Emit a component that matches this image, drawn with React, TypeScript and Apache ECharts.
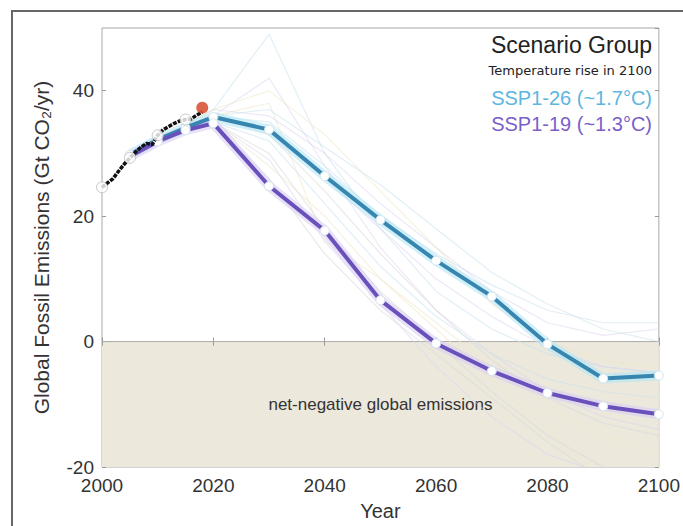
import React, { useEffect, useRef } from "react";
import * as echarts from "echarts";

const histYears = [2000, 2001, 2002, 2003, 2004, 2005, 2006, 2007, 2008, 2009, 2010, 2011, 2012, 2013, 2014, 2015, 2016, 2017, 2018];
const histValues = [24.6, 25.3, 26.0, 27.2, 28.3, 29.3, 30.2, 31.0, 31.6, 31.4, 32.9, 33.8, 34.3, 34.8, 35.2, 35.4, 35.5, 36.1, 36.6];
const histMarkerYears = [2000, 2005, 2010, 2015];
const histMarkerValues = [24.6, 29.3, 32.9, 35.4];
const latestYear = 2018;
const latestValue = 37.3;

const scenarioYears = [2005, 2010, 2015, 2020, 2030, 2040, 2050, 2060, 2070, 2080, 2090, 2100];
const ssp126 = [29.8, 32.2, 34.1, 35.8, 33.8, 26.4, 19.4, 12.9, 7.2, -0.4, -5.9, -5.4];
const ssp119 = [29.5, 31.9, 33.7, 34.8, 24.8, 17.7, 6.6, -0.3, -4.7, -8.2, -10.3, -11.6];

const bgYears = [2015, 2020, 2030, 2040, 2050, 2060, 2070, 2080, 2090, 2100];
const bgRuns = [
  [34.5, 37, 49, 30, 18, 8, 2, -2, -4, -5],
  [34.5, 36, 42, 28, 15, 5, -2, -8, -12, -14],
  [34.5, 36, 38, 16, 10, 3, -4, -10, -15, -18],
  [34.5, 35, 30, 18, 8, 0, -8, -15, -20, -22],
  [34.5, 36, 35, 28, 20, 14, 9, 5, 3, 3],
  [34.5, 37, 36, 30, 22, 15, 8, 3, 1, 2],
  [34.5, 35, 28, 20, 10, 2, -6, -14, -22, -26],
  [34.5, 36, 33, 24, 14, 5, -3, -9, -13, -15],
  [34.5, 35, 32, 22, 12, 4, -2, -6, -8, -9],
  [34.5, 36, 34, 26, 18, 10, 4, -1, -4, -5],
  [34.5, 37, 40, 33, 24, 15, 6, 0, -3, -4],
  [34.5, 35, 26, 14, 5, -2, -9, -16, -22, -25],
  [34.5, 36, 37, 31, 25, 18, 11, 6, 2, 0],
  [34.5, 35, 29, 16, 6, -4, -12, -18, -21, -23],
];
const bgColors = ["#c9e2ef", "#ddd5ef", "#efe7c6", "#d8d8d8"];

const negYears = [2000, 2100];
const negTop = [0, 0];

const yTicks = [-20, 0, 20, 40];
const xTicks = [2000, 2020, 2040, 2060, 2080, 2100];

const zip = (xs: number[], ys: number[]) => xs.map((x, i) => [x, ys[i]]);

export default function App() {
  const ref = useRef<HTMLDivElement>(null);
  useEffect(() => {
    if (!ref.current) return;
    const chart = echarts.init(ref.current, undefined, { renderer: "svg" });
    const font = "'Liberation Sans', Arial, sans-serif";
    const bgSeries = bgRuns.map((run, i) => ({
      type: "line",
      data: zip(bgYears, run),
      symbol: "none",
      silent: true,
      z: 2,
      lineStyle: { width: 1.2, color: bgColors[i % bgColors.length], opacity: 0.55 },
    }));
    const haloSeries = (data: number[], color: string) => ({
      type: "line",
      data: zip(scenarioYears, data),
      symbol: "none",
      silent: true,
      z: 3,
      lineStyle: { width: 10, color, opacity: 0.6 },
    });
    const mainSeries = (data: number[], color: string, name: string) => ({
      type: "line",
      name,
      data: zip(scenarioYears, data),
      symbol: "circle",
      symbolSize: 9,
      showAllSymbol: true,
      z: 5,
      itemStyle: { color: "#ffffff", borderColor: "#d6e6ef", borderWidth: 1 },
      lineStyle: { width: 4, color },
    });
    chart.setOption({
      animation: false,
      backgroundColor: "#ffffff",
      grid: { left: 102, right: 21, top: 28, bottom: 59, show: true, borderColor: "#a8a8a8", borderWidth: 1, backgroundColor: "transparent" },
      xAxis: [
        {
          type: "value",
          min: 2000,
          max: 2100,
          interval: 20,
          name: "Year",
          nameLocation: "middle",
          nameGap: 34,
          nameTextStyle: { fontSize: 20, color: "#333", fontFamily: font },
          axisLine: { show: false },
          axisTick: { show: true, inside: true, length: 4, lineStyle: { color: "#999" } },
          axisLabel: { fontSize: 19, color: "#333", fontFamily: font, margin: 9, formatter: (v: number) => (xTicks.includes(v) ? String(v) : "") },
          splitLine: { show: false },
        },
        {
          type: "value",
          position: "top",
          min: 2000,
          max: 2100,
          interval: 20,
          axisLine: { show: false },
          axisTick: { show: true, inside: true, length: 4, lineStyle: { color: "#999" } },
          axisLabel: { show: false },
          splitLine: { show: false },
        },
      ],
      yAxis: [
        {
          type: "value",
          min: -20,
          max: 50,
          interval: 20,
          name: "Global Fossil Emissions (Gt CO₂/yr)",
          nameLocation: "middle",
          nameGap: 50,
          nameTextStyle: { fontSize: 21, color: "#333", fontFamily: font },
          axisLine: { show: false },
          axisTick: { show: true, inside: true, length: 4, lineStyle: { color: "#999" } },
          axisLabel: { fontSize: 19, color: "#333", fontFamily: font, margin: 8, showMaxLabel: false, formatter: (v: number) => (yTicks.includes(v) ? String(v) : "") },
          splitLine: { show: false },
        },
        {
          type: "value",
          position: "right",
          min: -20,
          max: 50,
          interval: 20,
          axisLine: { show: false },
          axisTick: { show: true, inside: true, length: 4, lineStyle: { color: "#999" } },
          axisLabel: { show: false },
          splitLine: { show: false },
        },
      ],
      series: [
        {
          type: "line",
          data: zip(negYears, negTop),
          symbol: "none",
          silent: true,
          z: 0,
          lineStyle: { color: "#a9a9a9", width: 1 },
          areaStyle: { color: "#ece8dc", opacity: 1, origin: "start" },
          markArea: {
            silent: true,
            itemStyle: { color: "rgba(0,0,0,0)" },
            label: { show: true, position: "inside", color: "#333", fontSize: 17, fontFamily: font, formatter: "net-negative global emissions" },
            data: [[{ yAxis: -20, xAxis: 2000 }, { yAxis: 0, xAxis: 2100 }]],
          },
        },
        ...bgSeries,
        haloSeries(ssp126, "#b3e6f7"),
        haloSeries(ssp119, "#d9cff5"),
        mainSeries(ssp126, "#3786b0", "SSP1-26"),
        mainSeries(ssp119, "#6a50bb", "SSP1-19"),
        {
          type: "line",
          data: zip(histYears, histValues),
          symbol: "none",
          z: 6,
          lineStyle: { width: 3.5, color: "#111", type: [4, 1.2] },
        },
        {
          type: "scatter",
          data: zip(histMarkerYears, histMarkerValues),
          symbol: "circle",
          symbolSize: 11,
          z: 7,
          itemStyle: { color: "#ffffff", borderColor: "#bbb", borderWidth: 1 },
        },
        {
          type: "scatter",
          data: [[latestYear, latestValue]],
          symbol: "circle",
          symbolSize: 12,
          z: 8,
          itemStyle: { color: "#d2401c" },
        },
      ],
      graphic: [
        { type: "rect", shape: { x: 12, y: 11, width: 700, height: 560 }, style: { fill: "none", stroke: "#666", lineWidth: 2 }, silent: true, z: 100 },
        { type: "text", right: 31, top: 33, style: { text: "Scenario Group", fontSize: 23, fill: "#222", fontFamily: font }, z: 100 },
        { type: "text", right: 31, top: 64, style: { text: "Temperature rise in 2100", fontSize: 13, fill: "#222", fontFamily: "'DejaVu Sans', sans-serif" }, z: 100 },
        { type: "text", right: 31, top: 88, style: { text: "SSP1-26 (~1.7°C)", fontSize: 20, fill: "#5cb6df", fontFamily: font }, z: 100 },
        { type: "text", right: 31, top: 114, style: { text: "SSP1-19 (~1.3°C)", fontSize: 20, fill: "#7a5fc8", fontFamily: font }, z: 100 },
      ],
    });
    return () => chart.dispose();
  }, []);
  return <div ref={ref} style={{ width: 683, height: 526, position: "absolute", left: 0, top: 0 }} />;
}
